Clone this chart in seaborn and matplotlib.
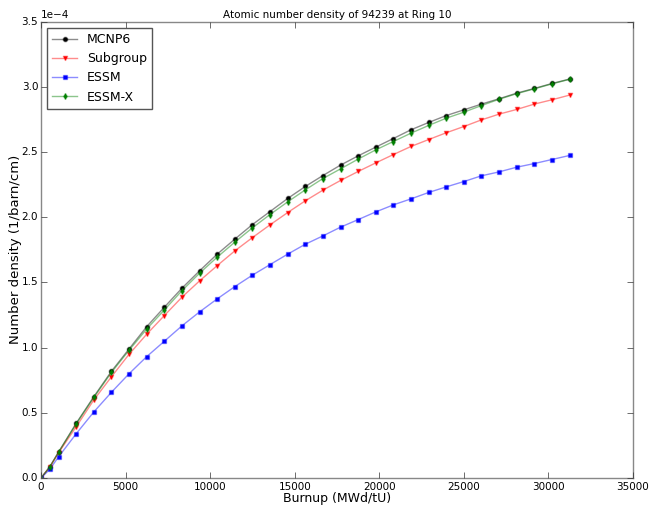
import matplotlib
matplotlib.use("Agg")
import matplotlib.pyplot as plt
import seaborn as sns
import pandas as pd
import numpy as np

burnup = [0, 521, 1042, 2084, 3125, 4167, 5208, 6250, 7292, 8333, 9375, 10417,
          11458, 12500, 13542, 14583, 15625, 16667, 17708, 18750, 19792, 20833,
          21875, 22917, 23958, 25000, 26042, 27083, 28125, 29167, 30208, 31250]

# values in units of 1e-4 barn^-1 cm^-1
mcnp6 = [0, 0.087, 0.20, 0.42, 0.624, 0.819, 0.99, 1.161, 1.31, 1.456, 1.589, 1.717,
         1.832, 1.944, 2.044, 2.144, 2.236, 2.32, 2.40, 2.471, 2.538, 2.604,
         2.671, 2.727, 2.78, 2.824, 2.868, 2.909, 2.952, 2.988, 3.026, 3.06]
subgroup = [0, 0.083, 0.194, 0.394, 0.599, 0.777, 0.949, 1.103, 1.246, 1.387, 1.512, 1.629,
            1.742, 1.844, 1.942, 2.036, 2.126, 2.208, 2.282, 2.351, 2.417, 2.481,
            2.543, 2.596, 2.648, 2.696, 2.747, 2.791, 2.827, 2.868, 2.901, 2.937]
essm = [0, 0.067, 0.163, 0.34, 0.507, 0.658, 0.80, 0.931, 1.049, 1.167, 1.274, 1.374,
        1.468, 1.556, 1.637, 1.717, 1.793, 1.857, 1.924, 1.982, 2.041, 2.095,
        2.141, 2.19, 2.233, 2.274, 2.318, 2.348, 2.384, 2.412, 2.443, 2.474]
essm_x = [0, 0.085, 0.198, 0.415, 0.618, 0.810, 0.98, 1.143, 1.289, 1.437, 1.571, 1.694,
          1.809, 1.919, 2.021, 2.118, 2.21, 2.297, 2.371, 2.446, 2.517, 2.581,
          2.645, 2.704, 2.76, 2.806, 2.857, 2.905, 2.948, 2.985, 3.023, 3.058]

series_names = ["MCNP6", "Subgroup", "ESSM", "ESSM-X"]
series_values = [mcnp6, subgroup, essm, essm_x]
colors = ["black", "red", "blue", "green"]
markers = ["o", "v", "s", "d"]

plt.style.use("classic")
plt.rcParams["font.family"] = ["DejaVu Sans"]

fig = plt.figure(figsize=(6.49, 5.08), dpi=100, facecolor="white")
ax = fig.add_axes([41/649, 1 - 478/508, 592/649, (478 - 21.7)/508])
ax.set_facecolor("white")

for name, vals, c, m in zip(series_names, series_values, colors, markers):
    df = pd.DataFrame({"Burnup": burnup, "Density": np.array(vals) * 1e-4})
    rgba = matplotlib.colors.to_rgba(c)
    sns.lineplot(data=df, x="Burnup", y="Density", ax=ax, label=name,
                 color=(rgba[0], rgba[1], rgba[2], 0.45), linewidth=1.0,
                 marker=m, markersize=3.2,
                 markerfacecolor=c, markeredgecolor=(rgba[0], rgba[1], rgba[2], 0.35),
                 markeredgewidth=1.0)

ax.set_xlim(0, 35000)
ax.set_ylim(0, 3.5e-4)
ax.set_xticks(np.arange(0, 35001, 5000))
ax.set_yticks(np.arange(0, 3.51e-4, 0.5e-4))
ax.ticklabel_format(axis="y", style="sci", scilimits=(0, 0))
ax.tick_params(labelsize=7.5, colors="#333333", labelcolor="black")
ax.tick_params(axis="x", pad=3)
ax.tick_params(axis="y", pad=2)
ax.yaxis.get_offset_text().set_fontsize(7.5)
ax.set_xlabel("Burnup (MWd/tU)", fontsize=9, labelpad=0)
ax.set_ylabel("Number density (1/barn/cm)", fontsize=9.5, labelpad=0)
ax.set_title("Atomic number density of 94239 at Ring 10", fontsize=7.5, pad=3)
for s in ax.spines.values():
    s.set_color("#888888")
leg = ax.legend(loc="upper left", numpoints=1, fontsize=9, fancybox=False,
                handlelength=2.0, borderaxespad=0.5)
leg.get_frame().set_edgecolor("#555555")

fig.savefig("out.png", dpi=100, facecolor="white")
